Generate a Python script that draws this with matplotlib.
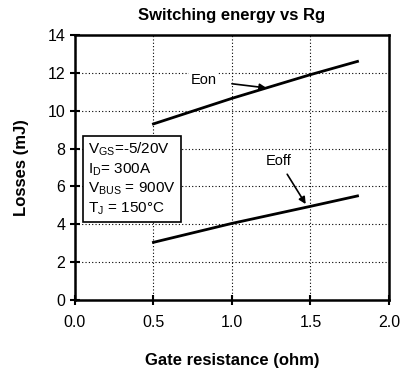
import matplotlib
matplotlib.use("Agg")
import matplotlib.pyplot as plt

plt.rcParams['font.family'] = ['Liberation Sans', 'DejaVu Sans']

rg = [0.5, 1.0, 1.5, 1.8]
eon = [9.3, 10.65, 11.9, 12.6]
eoff = [3.05, 4.05, 4.95, 5.5]

fig = plt.figure(figsize=(4.03, 3.71), dpi=100)
ax = fig.add_axes([0.186, 0.191, 0.779, 0.715])

ax.plot(rg, eon, color='black', linewidth=2)
ax.plot(rg, eoff, color='black', linewidth=2)

ax.set_xlim(0, 2.0)
ax.set_ylim(0, 14)
ax.set_xticks([0.0, 0.5, 1.0, 1.5, 2.0])
ax.set_xticklabels(['0.0', '0.5', '1.0', '1.5', '2.0'])
ax.set_yticks(range(0, 15, 2))
ax.grid(True, color='black', linestyle=(0, (1, 2)), linewidth=0.8)
for s in ax.spines.values():
    s.set_linewidth(1.8)
ax.tick_params(direction='inout', length=7, width=1.5, labelsize=11.5)
ax.tick_params(axis='x', pad=7)

ax.set_title('Switching energy vs Rg', fontsize=12, fontweight='bold', pad=11)
ax.set_xlabel('Gate resistance (ohm)', fontsize=12, fontweight='bold', labelpad=17)
ax.set_ylabel('Losses (mJ)', fontsize=12, fontweight='bold', labelpad=13)

box = dict(facecolor='white', edgecolor='none', pad=1)
ax.annotate('Eon', xy=(1.22, 11.2), xytext=(0.82, 11.6), fontsize=10.5,
            ha='center', va='center', bbox=box,
            arrowprops=dict(arrowstyle='-|>', color='black', lw=1.2,
                            shrinkA=10, shrinkB=0, mutation_scale=10))
ax.annotate('Eoff', xy=(1.47, 5.07), xytext=(1.3, 7.34), fontsize=10.5,
            ha='center', va='center', bbox=box,
            arrowprops=dict(arrowstyle='-|>', color='black', lw=1.2,
                            shrinkA=4, shrinkB=0, mutation_scale=10))

ax.text(0.085, 6.4,
        '$\\mathregular{V_{GS}}$=-5/20V\n$\\mathregular{I_D}$= 300A\n'
        '$\\mathregular{V_{BUS}}$ = 900V\n$\\mathregular{T_J}$ = 150°C',
        fontsize=11, ha='left', va='center', linespacing=1.25,
        bbox=dict(facecolor='white', edgecolor='black', linewidth=1.2,
                  boxstyle='square,pad=0.35'))

fig.savefig('out.png', dpi=100)
